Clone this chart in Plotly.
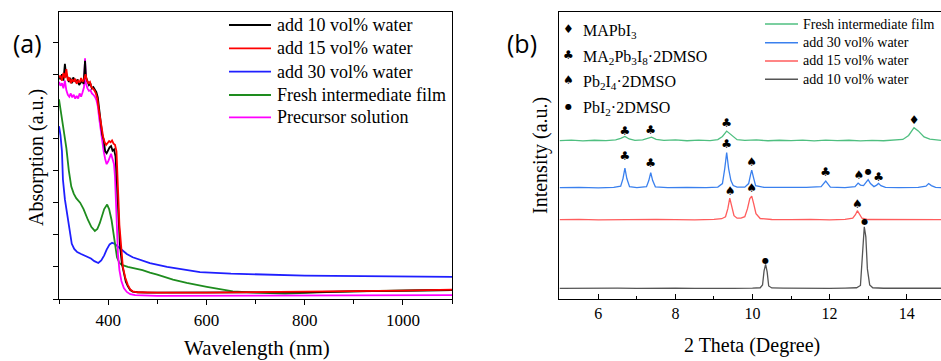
import plotly.graph_objects as go

W, H = 941, 361

# ---------------- Panel (a) data: UV-vis absorption ----------------
wl_10 = [300, 303, 306, 309, 312, 314, 317, 320, 323, 326, 329, 332, 335, 338, 341, 344, 347, 350, 353, 355,
         358, 361, 364, 367, 370, 373, 376, 379, 382, 385, 388, 391, 394, 397, 400, 403, 406, 409, 412, 415,
         417, 419, 421, 424, 428, 432, 436, 440, 445, 450, 460, 480, 500, 600, 700, 800, 900, 1000, 1100]
abs_10 = [3.47, 3.42, 3.50, 3.40, 3.66, 3.52, 3.46, 3.38, 3.44, 3.36, 3.45, 3.40, 3.38, 3.42, 3.33, 3.36, 3.40, 3.35, 3.71, 3.45,
          3.38, 3.33, 3.35, 3.28, 3.30, 3.26, 3.22, 3.14, 2.92, 2.70, 2.56, 2.48, 2.30, 2.27, 2.33, 2.36, 2.38, 2.31, 2.33, 2.22,
          1.95, 1.60, 1.25, 0.85, 0.55, 0.38, 0.27, 0.20, 0.14, 0.115, 0.105, 0.10, 0.10, 0.10, 0.10, 0.105, 0.12, 0.13, 0.14]

wl_15 = [300, 303, 306, 309, 312, 315, 318, 321, 324, 327, 330, 333, 336, 339, 342, 345, 348, 351, 354, 357,
         360, 363, 366, 369, 372, 375, 378, 381, 384, 387, 390, 393, 396, 399, 402, 405, 408, 411, 414, 417,
         419, 421, 423, 426, 430, 435, 440, 445, 450, 460, 500, 600, 700, 800, 900, 1000, 1100]
abs_15 = [3.45, 3.48, 3.40, 3.52, 3.44, 3.58, 3.40, 3.45, 3.36, 3.42, 3.38, 3.43, 3.35, 3.40, 3.37, 3.44, 3.38, 3.42, 3.50, 3.40,
          3.36, 3.38, 3.30, 3.28, 3.25, 3.20, 3.12, 2.95, 2.78, 2.62, 2.52, 2.44, 2.40, 2.43, 2.46, 2.44, 2.47, 2.42, 2.40, 2.30,
          2.00, 1.55, 1.15, 0.80, 0.50, 0.33, 0.22, 0.15, 0.12, 0.105, 0.10, 0.10, 0.105, 0.11, 0.12, 0.13, 0.145]

wl_30 = [300, 303, 306, 308, 312, 316, 320, 326, 331, 337, 345, 357, 365, 372, 380, 386, 392, 397, 403, 408,
         413, 418, 428, 438, 450, 470, 485, 520, 550, 587, 650, 723, 800, 858, 950, 1100]
abs_30 = [2.69, 2.55, 2.30, 1.86, 1.55, 1.34, 1.10, 0.86, 0.78, 0.73, 0.70, 0.66, 0.63, 0.59, 0.56, 0.60, 0.68, 0.77, 0.85, 0.875,
          0.86, 0.83, 0.76, 0.70, 0.65, 0.60, 0.56, 0.50, 0.46, 0.42, 0.395, 0.375, 0.365, 0.36, 0.35, 0.345]

wl_film = [300, 305, 310, 315, 320, 325, 330, 335, 343, 350, 359, 366, 373, 378, 383, 387, 392, 398, 402, 407,
           411, 414, 418, 423, 428, 440, 451, 470, 485, 500, 532, 560, 601, 630, 654, 700, 723, 760, 790, 858,
           950, 1100]
abs_film = [3.11, 2.85, 2.67, 2.35, 2.00, 1.75, 1.64, 1.57, 1.50, 1.40, 1.23, 1.12, 1.06, 1.09, 1.18, 1.28, 1.40, 1.47, 1.40, 1.23,
            1.00, 0.81, 0.65, 0.56, 0.53, 0.50, 0.48, 0.45, 0.41, 0.38, 0.30, 0.25, 0.19, 0.15, 0.12, 0.10, 0.09, 0.085, 0.09, 0.11,
            0.125, 0.14]

wl_prec = [300, 303, 306, 309, 312, 315, 318, 321, 324, 327, 330, 333, 336, 339, 342, 345, 348, 351, 353, 355,
           358, 361, 364, 367, 370, 373, 376, 379, 382, 385, 388, 391, 394, 397, 400, 403, 406, 409, 412, 414,
           416, 418, 420, 423, 427, 432, 438, 445, 455, 500, 600, 800, 1000, 1100]
abs_prec = [3.38, 3.32, 3.36, 3.28, 3.40, 3.25, 3.18, 3.15, 3.20, 3.14, 3.18, 3.12, 3.16, 3.12, 3.20, 3.15, 3.22, 3.30, 3.75, 3.35,
            3.28, 3.24, 3.25, 3.20, 3.18, 3.15, 3.10, 3.00, 2.80, 2.60, 2.45, 2.30, 2.18, 2.10, 2.14, 2.22, 2.26, 2.18, 2.10, 1.90,
            1.50, 1.05, 0.70, 0.45, 0.28, 0.17, 0.11, 0.075, 0.06, 0.05, 0.05, 0.05, 0.055, 0.06]

# ---------------- Panel (b) data: XRD patterns (offset, a.u.) ----------------
tt_10 = [5.0, 5.5, 6.0, 6.5, 7.0, 7.5, 8.0, 8.5, 9.0, 9.5, 10.0, 10.2, 10.26, 10.30, 10.34, 10.38, 10.42, 10.5, 10.8, 11.2,
         11.6, 12.0, 12.4, 12.7, 12.80, 12.85, 12.90, 12.94, 12.98, 13.04, 13.12, 13.4, 13.8, 14.2, 14.6, 14.9]
int_10 = [10.6, 10.9, 10.5, 10.8, 10.6, 11.0, 10.7, 10.5, 10.9, 10.6, 10.8, 11.2, 14.0, 28.0, 34.5, 27.0, 13.0, 11.0, 10.8, 10.5,
          10.9, 10.6, 10.8, 11.2, 13.5, 38.0, 72.0, 62.0, 30.0, 14.0, 11.2, 10.7, 10.9, 10.6, 10.8, 10.7]

tt_15 = [5.0, 5.5, 6.0, 6.5, 7.0, 7.5, 8.0, 8.5, 9.0, 9.2, 9.3, 9.36, 9.41, 9.46, 9.52, 9.6, 9.7, 9.8, 9.87, 9.93,
         9.98, 10.03, 10.09, 10.2, 10.5, 11.0, 11.5, 12.0, 12.4, 12.6, 12.67, 12.72, 12.77, 12.84, 13.0, 13.5, 14.0, 14.5, 14.9]
int_15 = [79.0, 79.4, 78.8, 79.2, 78.9, 79.3, 79.0, 78.8, 79.4, 80.0, 82.0, 90.0, 100.5, 92.0, 83.0, 80.5, 80.5, 82.0, 90.0, 100.0,
          102.5, 95.0, 85.0, 80.2, 79.2, 79.0, 79.4, 78.9, 79.4, 80.5, 84.0, 88.0, 84.5, 80.5, 79.2, 79.0, 79.3, 78.9, 79.1]

tt_30 = [5.0, 5.5, 6.0, 6.4, 6.58, 6.64, 6.69, 6.74, 6.81, 7.0, 7.25, 7.31, 7.36, 7.41, 7.48, 7.8, 8.3, 8.8, 9.1, 9.22,
         9.28, 9.33, 9.38, 9.44, 9.50, 9.6, 9.8, 9.9, 9.95, 9.98, 10.02, 10.08, 10.3, 10.8, 11.4, 11.78, 11.86, 11.9, 11.94, 12.02,
         12.4, 12.66, 12.74, 12.8, 12.88, 12.94, 13.0, 13.06, 13.15, 13.22, 13.27, 13.33, 13.45, 13.8, 14.3, 14.5, 14.57, 14.64, 14.75, 14.9]
int_30 = [111.0, 111.3, 110.8, 111.2, 112.5, 120.0, 130.5, 120.0, 112.0, 111.0, 112.0, 118.0, 126.0, 118.0, 111.8, 111.0, 111.3, 110.9, 111.5, 115.0,
          130.0, 146.0, 130.0, 118.0, 113.0, 111.5, 111.5, 115.0, 124.0, 128.5, 122.0, 113.0, 111.2, 110.9, 111.2, 112.0, 116.0, 117.5, 115.5, 111.5,
          111.0, 112.0, 115.5, 113.5, 113.0, 116.0, 119.0, 115.0, 112.0, 113.5, 115.2, 113.0, 111.3, 111.0, 111.2, 112.5, 115.0, 113.0, 111.3, 111.0]

tt_film = [5.0, 5.3, 5.6, 5.9, 6.2, 6.45, 6.58, 6.69, 6.8, 6.95, 7.15, 7.28, 7.38, 7.5, 7.7, 8.0, 8.3, 8.6, 8.9, 9.1,
           9.22, 9.33, 9.44, 9.6, 9.8, 10.1, 10.4, 10.7, 11.0, 11.3, 11.6, 11.9, 12.2, 12.5, 12.8, 13.1, 13.4, 13.7, 13.9, 14.05,
           14.19, 14.3, 14.45, 14.6, 14.75, 14.9]
int_film = [157.8, 158.4, 157.6, 158.2, 157.9, 158.6, 160.0, 162.0, 159.5, 158.0, 158.6, 160.3, 161.3, 159.0, 158.0, 158.5, 157.7, 158.3, 157.9, 158.8,
            162.0, 167.3, 163.5, 158.8, 158.0, 158.5, 157.7, 158.2, 157.8, 158.4, 157.6, 158.3, 157.8, 158.2, 157.6, 158.1, 157.7, 158.2, 159.0, 163.0,
            170.7, 167.5, 161.5, 159.3, 158.4, 158.0]

# Phase markers above peaks (2theta, height), grouped by phase
mapbi_x = [14.19]
mapbi_y = [177.0]
ma2_x = [6.69, 7.36, 9.33, 6.69, 7.36, 9.33, 11.9, 13.27]
ma2_y = [166.3, 167.3, 174.0, 141.3, 134.7, 153.0, 125.7, 120.3]
pb2_x = [9.98, 12.76, 9.42, 9.98, 12.72]
pb2_y = [135.7, 123.0, 106.3, 109.7, 93.7]
pbi2_x = [13.0, 10.34, 12.91]
pbi2_y = [126.3, 38.0, 77.0]

x_ticks_a = [400, 600, 800, 1000]
x_ticks_b = [6, 8, 10, 12, 14]

SERIF = "Liberation Serif, Times New Roman, serif"
SYM = "DejaVu Sans"

def px(x):
    return x / W

def py(y):
    return 1 - y / H

fig = go.Figure()

# ---- panel (a) traces ----
a_series = [
    ("add 30 vol% water", wl_30, abs_30, "#1f1fff"),
    ("Fresh intermediate film", wl_film, abs_film, "#1e8c1e"),
    ("Precursor solution", wl_prec, abs_prec, "#ff00ff"),
    ("add 10 vol% water", wl_10, abs_10, "#000000"),
    ("add 15 vol% water", wl_15, abs_15, "#ff0000"),
]
for name, xs, ys, c in a_series:
    fig.add_trace(go.Scatter(x=xs, y=ys, mode="lines", name=name, showlegend=False,
                             line=dict(color=c, width=1.8), xaxis="x", yaxis="y"))

# ---- panel (b) traces ----
b_series = [
    ("add 10 vol% water", tt_10, int_10, "#555555"),
    ("add 15 vol% water", tt_15, int_15, "#ff5c5c"),
    ("add 30 vol% water", tt_30, int_30, "#3a80ee"),
    ("Fresh intermediate film", tt_film, int_film, "#4fbf80"),
]
for name, xs, ys, c in b_series:
    fig.add_trace(go.Scatter(x=xs, y=ys, mode="lines", name=name, showlegend=False,
                             line=dict(color=c, width=1.3), xaxis="x2", yaxis="y2"))

for xs, ys, sym, sz in [(mapbi_x, mapbi_y, "♦", 12), (ma2_x, ma2_y, "♣", 12),
                        (pb2_x, pb2_y, "♠", 12), (pbi2_x, pbi2_y, "●", 8)]:
    fig.add_trace(go.Scatter(x=xs, y=ys, mode="text", text=[sym] * len(xs), showlegend=False,
                             textfont=dict(family=SYM, size=sz, color="black"),
                             textposition="middle center", xaxis="x2", yaxis="y2", hoverinfo="skip"))

ydom = [py(299), py(12)]
axis_common = dict(showline=True, linecolor="black", linewidth=1.2, showgrid=False, zeroline=False)

fig.update_layout(
    width=W, height=H, margin=dict(l=0, r=0, t=0, b=0),
    paper_bgcolor="white", plot_bgcolor="white", showlegend=False,
    font=dict(family=SERIF, color="black"),
    xaxis=dict(domain=[px(59), px(452)], range=[300, 1100], tickvals=x_ticks_a,
               ticks="outside", ticklen=5, tickwidth=1, tickcolor="black", mirror=True,
               minor=dict(dtick=100, tick0=0, ticks="outside", ticklen=4, tickcolor="black"),
               tickfont=dict(family=SERIF, size=17, color="black"), anchor="y", **axis_common),
    yaxis=dict(domain=ydom, range=[0, 286 / 64], dtick=0.5, tick0=0, ticks="outside", ticklen=5,
               tickwidth=1, tickcolor="black", showticklabels=False, mirror=True, anchor="x", **axis_common),
    xaxis2=dict(domain=[px(559), 1.0], range=[4.98, 14.89], tickvals=x_ticks_b,
                ticks="inside", ticklen=5, tickwidth=1, tickcolor="black", mirror=True,
                minor=dict(dtick=1, tick0=0, ticks="inside", ticklen=3, tickcolor="black"),
                tickfont=dict(family=SERIF, size=16, color="black"), anchor="y2", **axis_common),
    yaxis2=dict(domain=ydom, range=[0, 286], showticklabels=False, ticks="", mirror=False,
                anchor="x2", **axis_common),
)

ann = []
shapes = []

# axis titles
for t, cx, cy, ang, fs in [("Absorption (a.u.)", 36, 158, -90, 20), ("Wavelength (nm)", 257, 348, 0, 21),
                           ("Intensity (a.u.)", 540, 156, -90, 20), ("2 Theta (Degree)", 752, 345, 0, 20)]:
    ann.append(dict(text=t, x=px(cx), y=py(cy), textangle=ang, xref="paper", yref="paper",
                    showarrow=False, xanchor="center", yanchor="middle",
                    font=dict(family=SERIF, size=fs, color="black")))

# panel labels
for t, cx in [("(a)", 27), ("(b)", 522)]:
    ann.append(dict(text=t, x=px(cx), y=py(43), xref="paper", yref="paper", showarrow=False,
                    xanchor="center", yanchor="middle",
                    font=dict(family="Open Sans", size=25, color="black")))

# legend (a)
leg_a = [("add 10 vol% water", "#000000", 25), ("add 15 vol% water", "#ff0000", 48.3),
         ("add 30 vol% water", "#1f1fff", 71.7), ("Fresh intermediate film", "#1e8c1e", 95),
         ("Precursor solution", "#ff00ff", 117.3)]
for t, c, yy in leg_a:
    shapes.append(dict(type="line", xref="paper", yref="paper", x0=px(229), x1=px(271), y0=py(yy), y1=py(yy),
                       line=dict(color=c, width=1.8)))
    ann.append(dict(text=t, x=px(275), y=py(yy), xref="paper", yref="paper", showarrow=False,
                    xanchor="left", yanchor="middle", font=dict(family=SERIF, size=18, color="black")))

# legend (b)
leg_b = [("Fresh intermediate film", "#4fbf80", 24), ("add 30 vol% water", "#3a80ee", 42.7),
         ("add 15 vol% water", "#ff5c5c", 61), ("add 10 vol% water", "#555555", 79.3)]
for t, c, yy in leg_b:
    shapes.append(dict(type="line", xref="paper", yref="paper", x0=px(765), x1=px(798), y0=py(yy), y1=py(yy),
                       line=dict(color=c, width=1.4)))
    ann.append(dict(text=t, x=px(801), y=py(yy), xref="paper", yref="paper", showarrow=False,
                    xanchor="left", yanchor="middle", font=dict(family=SERIF, size=14, color="black")))

# phase key (b)
phase = [("♦", "MAPbI<sub>3</sub>", 29.3, 12), ("♣", "MA<sub>2</sub>Pb<sub>3</sub>I<sub>8</sub>·2DMSO", 55, 12),
         ("♠", "Pb<sub>2</sub>I<sub>4</sub>·2DMSO", 80, 12), ("●", "PbI<sub>2</sub>·2DMSO", 106, 8)]
for s, t, yy, sz in phase:
    ann.append(dict(text=s, x=px(568), y=py(yy), xref="paper", yref="paper", showarrow=False,
                    xanchor="center", yanchor="middle", font=dict(family=SYM, size=sz, color="black")))
    ann.append(dict(text=t, x=px(581), y=py(yy + 2), xref="paper", yref="paper", showarrow=False,
                    xanchor="left", yanchor="middle", font=dict(family=SERIF, size=16, color="black")))

fig.update_layout(annotations=ann, shapes=shapes)
fig.write_html("out.html")
